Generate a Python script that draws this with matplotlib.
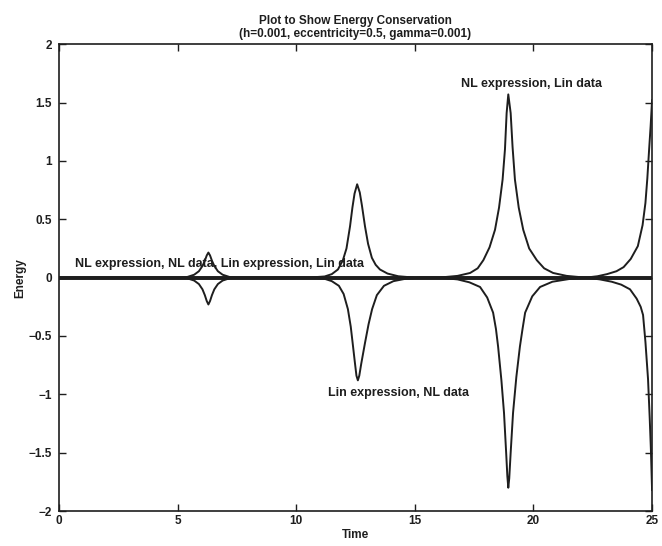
import matplotlib
matplotlib.use("Agg")
import matplotlib.pyplot as plt

plt.rcParams["font.family"] = ["Liberation Sans", "DejaVu Sans"]

# zero-error series (NL expr/NL data and Lin expr/Lin data overlap on 0)
t_flat = [0.0, 25.0]
e_nl_nl = [0.0, 0.0]
e_lin_lin = [0.0, 0.0]

# NL expression, Lin data (positive spikes near perihelion)
t_up = [0.0, 5.0, 5.4, 5.7, 5.9, 6.05, 6.15, 6.23, 6.3, 6.37, 6.45, 6.55, 6.7, 6.9, 7.2, 7.6,
        10.5, 11.2, 11.5, 11.76, 11.97, 12.12, 12.27, 12.37, 12.46, 12.57, 12.68, 12.77, 12.9,
        13.03, 13.19, 13.35, 13.53, 13.85, 14.3, 15.0,
        16.0, 16.8, 17.33, 17.65, 17.89, 18.15, 18.38, 18.55, 18.7, 18.8, 18.87, 18.94, 19.04,
        19.12, 19.22, 19.38, 19.57, 19.82, 20.14, 20.45, 20.83, 21.4, 22.2,
        22.7, 23.1, 23.5, 23.8, 24.1, 24.4, 24.6, 24.72, 24.8, 24.87, 24.94, 25.0]
e_up = [0.0, 0.0, 0.005, 0.025, 0.055, 0.10, 0.145, 0.19, 0.215, 0.19, 0.145, 0.10, 0.055, 0.025, 0.005, 0.0,
        0.0, 0.01, 0.03, 0.07, 0.15, 0.25, 0.44, 0.60, 0.72, 0.80, 0.73, 0.62, 0.44,
        0.29, 0.17, 0.11, 0.07, 0.035, 0.012, 0.0,
        0.0, 0.015, 0.04, 0.08, 0.15, 0.26, 0.41, 0.60, 0.84, 1.10, 1.41, 1.57, 1.41,
        1.12, 0.84, 0.60, 0.41, 0.25, 0.15, 0.08, 0.04, 0.015, 0.0,
        0.012, 0.03, 0.055, 0.09, 0.16, 0.27, 0.45, 0.64, 0.85, 1.08, 1.30, 1.52]

# Lin expression, NL data (negative spikes)
t_dn = [0.0, 5.0, 5.4, 5.7, 5.9, 6.05, 6.15, 6.23, 6.3, 6.37, 6.45, 6.55, 6.7, 6.9, 7.2, 7.6,
        10.5, 11.2, 11.5, 11.8, 12.0, 12.18, 12.3, 12.38, 12.47, 12.54, 12.6, 12.66, 12.74, 12.9,
        13.05, 13.2, 13.4, 13.7, 14.1, 14.6, 15.2,
        16.0, 16.8, 17.3, 17.75, 18.05, 18.3, 18.42, 18.51, 18.65, 18.76, 18.85, 18.9, 18.94, 18.98,
        19.04, 19.14, 19.28, 19.43, 19.54, 19.65, 19.95, 20.28, 20.8, 21.5, 22.2,
        22.8, 23.3, 23.7, 24.07, 24.35, 24.52, 24.62, 24.72, 24.83, 24.9, 24.95, 25.0]
e_dn = [0.0, 0.0, -0.005, -0.025, -0.055, -0.10, -0.15, -0.20, -0.23, -0.20, -0.15, -0.10, -0.055, -0.025, -0.005, 0.0,
        0.0, -0.01, -0.03, -0.07, -0.14, -0.27, -0.42, -0.56, -0.72, -0.84, -0.88, -0.84, -0.74, -0.56,
        -0.40, -0.27, -0.15, -0.07, -0.03, -0.01, 0.0,
        0.0, -0.015, -0.04, -0.08, -0.17, -0.30, -0.44, -0.59, -0.88, -1.16, -1.50, -1.70, -1.80, -1.72,
        -1.50, -1.16, -0.85, -0.59, -0.44, -0.30, -0.16, -0.08, -0.035, -0.012, 0.0,
        -0.015, -0.035, -0.06, -0.10, -0.18, -0.25, -0.32, -0.55, -0.87, -1.20, -1.47, -1.82]

x_ticks = [0, 5, 10, 15, 20, 25]
y_ticks = [-2, -1.5, -1, -0.5, 0, 0.5, 1, 1.5, 2]
y_labels = ["-2", "-1.5", "-1", "-0.5", "0", "0.5", "1", "1.5", "2"]

fig = plt.figure(figsize=(6.62, 5.46), dpi=100)
ax = fig.add_axes([0.089, 0.064, 0.896, 0.855])

ink = "#1e1e1e"
ax.plot(t_up, e_up, color=ink, lw=1.4)
ax.plot(t_dn, e_dn, color=ink, lw=1.4)
ax.plot(t_flat, e_nl_nl, color=ink, lw=2.6)
ax.plot(t_flat, e_lin_lin, color=ink, lw=2.6)

ax.set_xlim(0, 25)
ax.set_ylim(-2, 2)
ax.set_xticks(x_ticks)
ax.set_yticks(y_ticks)
ax.set_yticklabels([s.replace("-", "\u2212") for s in y_labels])
ax.tick_params(direction="in", top=True, right=True, length=5, width=1,
               labelsize=8.5, colors=ink)
ax.tick_params(axis="y", pad=5)
ax.tick_params(axis="x", pad=3)
for lab in ax.get_xticklabels() + ax.get_yticklabels():
    lab.set_fontweight("bold")
for s in ax.spines.values():
    s.set_linewidth(1.2)
    s.set_color(ink)

txt = dict(fontsize=9, color=ink, fontweight="bold")
ax.text(0.67, 0.12, "NL expression, NL data, Lin expression, Lin data", ha="left", va="center", **txt)
ax.text(16.95, 1.66, "NL expression, Lin data", ha="left", va="center", **txt)
ax.text(11.34, -0.985, "Lin expression, NL data", ha="left", va="center", **txt)

ax.set_title("Plot to Show Energy Conservation\n(h=0.001, eccentricity=0.5, gamma=0.001)",
             fontsize=8.5, fontweight="bold", color=ink, pad=5, linespacing=1.1)
ax.set_xlabel("Time", fontsize=8.5, fontweight="bold", color=ink, labelpad=1)
ax.set_ylabel("Energy", fontsize=8.5, fontweight="bold", color=ink, labelpad=2)

fig.savefig("out.png", dpi=100)
